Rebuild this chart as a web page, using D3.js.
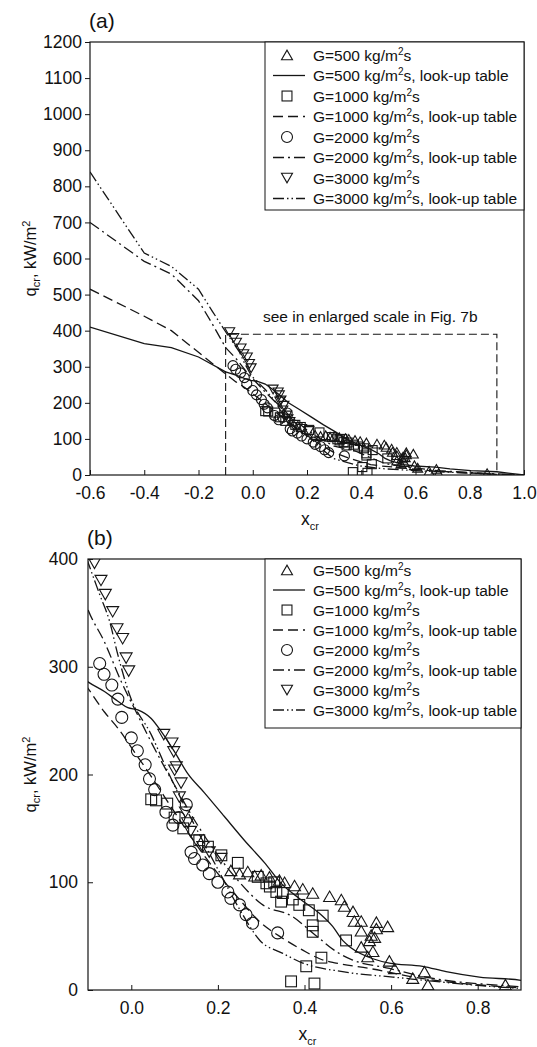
<!DOCTYPE html>
<html>
<head>
<meta charset="utf-8">
<script src="https://cdn.jsdelivr.net/npm/d3@7"></script>
<style>
  body { margin: 0; background: #fff; }
  svg { display: block; }
  text { font-family: "Liberation Sans", Arial, sans-serif; fill: #111; }
</style>
</head>
<body>
<div id="chart"></div>
<script>
// Look-up table curves (x_cr, q_cr in kW/m2)
const lut500X  = [-0.6,-0.4,-0.3,-0.2,-0.1,-0.062,-0.031,-0.008,0.015,0.046,0.069,0.1,0.13,0.169,0.215,0.261,0.308,0.346,0.388,0.435,0.465,0.488,0.508,0.558,0.596,0.673,0.727,0.804,0.9,1.0];
const lut500Q  = [410,364,353,327,286,277,268,262,260,252,240,221,201,183,161,139,118,99,85,71,59,46,39,29,25,22,17,12,9,0];
const lut1000X = [-0.6,-0.4,-0.3,-0.2,-0.1,-0.062,-0.031,0.007,0.038,0.1,0.15,0.2,0.25,0.3,0.342,0.396,0.435,0.473,0.55,0.666,0.9,1.0];
const lut1000Q = [515,440,400,340,280,258,243,221,203,165,135,108,84,62,50,37,29,25,20,11,2,0];
const lut2000X = [-0.6,-0.4,-0.3,-0.2,-0.15,-0.1,-0.062,-0.023,0.015,0.046,0.1,0.15,0.2,0.25,0.3,0.373,0.419,0.48,0.51,0.596,0.68,0.9,1.0];
const lut2000Q = [700,592,557,483,420,353,323,286,255,230,190,155,125,100,80,68,53,34,28,20,12,3,0];
const lut3000X = [-0.6,-0.4,-0.3,-0.2,-0.15,-0.1,-0.073,-0.05,-0.031,-0.004,0.046,0.084,0.15,0.2,0.25,0.297,0.35,0.396,0.488,0.604,0.9,1.0];
const lut3000Q = [840,615,578,515,455,397,367,342,311,274,237,203,150,112,75,46,34,25,17,12,1.5,0];

// Measured data
const exp500X  = [0.23,0.25,0.269,0.285,0.30,0.319,0.342,0.354,0.377,0.396,0.419,0.458,0.485,0.492,0.512,0.515,0.531,0.566,0.592,0.566,0.531,0.554,0.562,0.55,0.531,0.558,0.546,0.596,0.608,0.677,0.65,0.685,0.864];
const exp500Q  = [111,108,110,106,107,105,102,100,97,94,90,87,84,78,73,64,64,63,59,57,55,51,49,46,40,36,31,27,20,17,11,5,5];
const exp1000X = [0.046,0.057,0.083,0.1,0.12,0.157,0.177,0.208,0.246,0.292,0.312,0.32,0.33,0.335,0.346,0.35,0.373,0.388,0.41,0.442,0.419,0.419,0.496,0.439,0.404,0.369,0.423];
const exp1000Q = [177,176,173,160,150,139,133,125,118,105,99,96,100,91,82,90,84,79,74,69,60,54,46,30,22,8,6];
const exp2000X = [-0.073,-0.063,-0.045,-0.031,-0.022,0.0,0.014,0.032,0.042,0.054,0.08,0.096,0.11,0.127,0.138,0.146,0.165,0.18,0.2,0.223,0.23,0.25,0.265,0.28,0.338];
const exp2000Q = [303,293,283,270,253,234,222,209,196,186,165,153,160,172,128,122,116,108,100,91,85,79,70,62,53];
const exp3000X = [-0.085,-0.07,-0.06,-0.043,-0.033,-0.02,-0.012,-0.006,0.075,0.094,0.098,0.104,0.1,0.115,0.111,0.125,0.13,0.137,0.15,0.165,0.18,0.207];
const exp3000Q = [396,380,367,351,335,326,308,296,237,229,221,207,204,192,179,165,155,147,139,133,128,122];

const legendLabels = ["G=500 kg/m", "G=1000 kg/m", "G=2000 kg/m", "G=3000 kg/m"];

const ticksXA = [-0.6,-0.4,-0.2,0.0,0.2,0.4,0.6,0.8,1.0];
const ticksYA = [0,100,200,300,400,500,600,700,800,900,1000,1100,1200];
const ticksXB = [0.0,0.2,0.4,0.6,0.8];
const ticksYB = [0,100,200,300,400];

const width = 537, height = 1047;
const ink = "#151515";

const series = [
  {lx: lut500X,  lq: lut500Q,  ex: exp500X,  eq: exp500Q,  mark: "up",     dash: null},
  {lx: lut1000X, lq: lut1000Q, ex: exp1000X, eq: exp1000Q, mark: "square", dash: "10,5"},
  {lx: lut2000X, lq: lut2000Q, ex: exp2000X, eq: exp2000Q, mark: "circle", dash: "11,4,2,4"},
  {lx: lut3000X, lq: lut3000Q, ex: exp3000X, eq: exp3000Q, mark: "down",   dash: "11,3,1.5,3,1.5,3"}
];

const svg = d3.select("#chart").append("svg")
    .attr("width", width)
    .attr("height", height);

function marker(g, kind, cx, cy, s) {
  // s = nominal marker width
  if (kind === "circle") {
    g.append("circle").attr("cx", cx).attr("cy", cy).attr("r", s / 2);
  } else if (kind === "square") {
    g.append("rect").attr("x", cx - s * 0.45).attr("y", cy - s * 0.45)
      .attr("width", s * 0.9).attr("height", s * 0.9);
  } else {
    const h = s * 0.87, dir = kind === "up" ? 1 : -1;
    const pts = [[cx - s / 2, cy + dir * h / 2], [cx + s / 2, cy + dir * h / 2], [cx, cy - dir * h / 2]];
    g.append("path").attr("d", "M" + pts.join("L") + "Z");
  }
}

function drawPanel(o) {
  const x = d3.scaleLinear().domain(o.xDomain).range([o.left, o.right]);
  const y = d3.scaleLinear().domain(o.yDomain).range([o.bottom, o.top]);
  const g = svg.append("g");
  const clipId = "clip" + o.id;
  g.append("clipPath").attr("id", clipId).append("rect")
    .attr("x", o.left).attr("y", o.top)
    .attr("width", o.right - o.left).attr("height", o.bottom - o.top);

  // axes
  const ax = g.append("g").attr("transform", `translate(0,${o.bottom})`)
    .call(d3.axisBottom(x).tickValues(o.xTicks).tickSize(-5).tickPadding(o.xPad)
      .tickFormat(d => d.toFixed(1)));
  const ay = g.append("g").attr("transform", `translate(${o.left},0)`)
    .call(d3.axisLeft(y).tickValues(o.yTicks).tickSize(o.yTickSize).tickPadding(o.yPad)
      .tickFormat(d3.format("d")));
  [ax, ay].forEach(a => {
    a.select(".domain").remove();
    a.selectAll("line").attr("stroke", ink);
    a.selectAll("text").attr("font-size", 17.5).attr("fill", ink)
      .style("font-family", '"Liberation Sans", Arial, sans-serif');
  });

  // frame
  g.append("rect").attr("x", o.left).attr("y", o.top)
    .attr("width", o.right - o.left).attr("height", o.bottom - o.top)
    .attr("fill", "none").attr("stroke", ink).attr("stroke-width", 1.2);

  const plot = g.append("g").attr("clip-path", `url(#${clipId})`);

  if (o.box) {
    plot.append("path")
      .attr("d", `M${x(o.box[0])},${y(0)}V${y(o.box[2])}H${x(o.box[1])}V${y(0)}`)
      .attr("fill", "none").attr("stroke", ink).attr("stroke-width", 1.1)
      .attr("stroke-dasharray", "8,4");
  }

  const line = d3.line().x(d => x(d[0])).y(d => y(d[1])).curve(o.curve);
  series.forEach(s => {
    plot.append("path")
      .datum(s.lx.map((v, i) => [v, s.lq[i]]))
      .attr("d", line)
      .attr("fill", "none").attr("stroke", ink).attr("stroke-width", 1.3)
      .attr("stroke-dasharray", s.dash);
  });

  const mg = plot.append("g").attr("fill", "none").attr("stroke", ink).attr("stroke-width", 1.1);
  series.forEach(s => {
    s.ex.forEach((v, i) => marker(mg, s.mark, x(v), y(s.eq[i]), o.msize));
  });

  // legend
  const L = o.legend;
  g.append("rect").attr("x", L.x).attr("y", o.top).attr("width", o.right - L.x).attr("height", L.h)
    .attr("fill", "#fff").attr("stroke", ink).attr("stroke-width", 1);
  series.forEach((s, k) => {
    const r1 = L.y0 + (2 * k) * L.dy, r2 = r1 + L.dy;
    const lg = g.append("g").attr("fill", "none").attr("stroke", ink).attr("stroke-width", 1.1);
    marker(lg, s.mark, L.x + 22, r1, 11);
    g.append("line").attr("x1", L.x + 8).attr("x2", L.x + 40).attr("y1", r2).attr("y2", r2)
      .attr("stroke", ink).attr("stroke-width", 1.3).attr("stroke-dasharray", s.dash);
    [[r1, "s"], [r2, "s, look-up table"]].forEach(([ry, tail]) => {
      const t = g.append("text").attr("x", L.x + 48).attr("y", ry + 5.5).attr("font-size", 15.5);
      t.append("tspan").text(legendLabels[k]);
      t.append("tspan").attr("dy", -6).attr("font-size", 10).text("2");
      t.append("tspan").attr("dy", 6).text(tail);
    });
  });

  // titles
  g.append("text").attr("x", o.left - 1).attr("y", o.top - 14).attr("font-size", 21).text(o.label);
  const yt = g.append("text")
    .attr("transform", `translate(36,${(o.top + o.bottom) / 2}) rotate(-90)`)
    .attr("text-anchor", "middle").attr("font-size", 16.5);
  yt.append("tspan").text("q");
  yt.append("tspan").attr("dy", 4).attr("font-size", 11).text("cr");
  yt.append("tspan").attr("dy", -4).text(", kW/m");
  yt.append("tspan").attr("dy", -6).attr("font-size", 11).text("2");
  const xt = g.append("text").attr("x", (o.left + o.right) / 2 - 6).attr("y", o.xTitleY)
    .attr("font-size", 17.5);
  xt.append("tspan").text("x");
  xt.append("tspan").attr("dy", 5).attr("font-size", 11).text("cr");

  if (o.note) {
    g.append("text").attr("x", o.note.x).attr("y", o.note.y).attr("font-size", 15.5).text(o.note.text);
  }
}

drawPanel({
  id: "a", left: 90, right: 524, top: 42, bottom: 475,
  xDomain: [-0.6, 1.0], yDomain: [0, 1200],
  xTicks: ticksXA, yTicks: ticksYA, yTickSize: 5, yPad: 3, xPad: 12,
  msize: 10, box: [-0.1, 0.9, 390], label: "(a)", xTitleY: 525, curve: d3.curveLinear,
  legend: {x: 265, h: 168, y0: 55, dy: 20.5},
  note: {x: 263, y: 322, text: "see in enlarged scale in Fig. 7b"}
});

drawPanel({
  id: "b", left: 88, right: 521, top: 559, bottom: 990,
  xDomain: [-0.1, 0.9], yDomain: [0, 400],
  xTicks: ticksXB, yTicks: ticksYB, yTickSize: -5, yPad: 10, xPad: 12,
  msize: 12, box: null, label: "(b)", xTitleY: 1040, curve: d3.curveMonotoneX,
  legend: {x: 265, h: 169, y0: 570, dy: 20}
});
</script>
</body>
</html>
